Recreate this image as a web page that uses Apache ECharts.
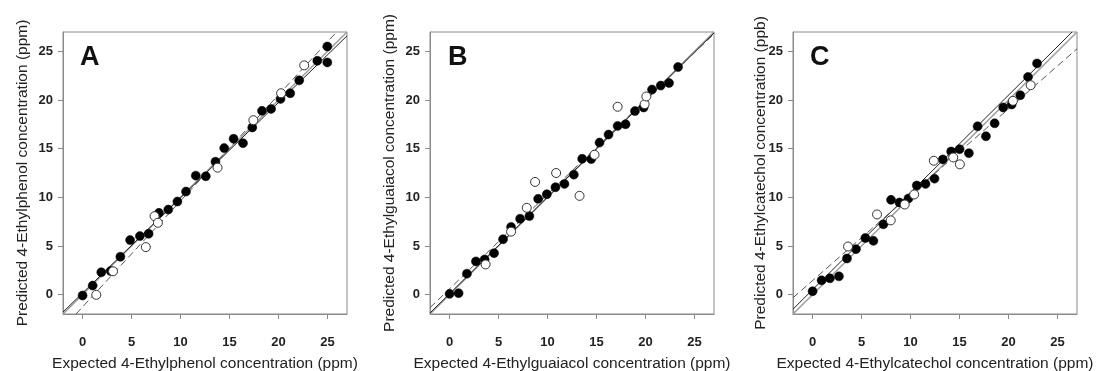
<!DOCTYPE html>
<html>
<head>
    <meta charset="utf-8">
    <title>Predicted vs expected</title>
    <script src="https://cdn.jsdelivr.net/npm/echarts@6/dist/echarts.min.js"></script>
    <style>
        html, body { margin: 0; padding: 0; background: #fff; }
        #chart { width: 1104px; height: 371px; }
    </style>
</head>
<body>
<div id="chart"></div>
<script>
    // tick labels (same on every axis)
    var tickValues = [0, 5, 10, 15, 20, 25];

    // panel A - 4-ethylphenol
    var aFilled = [[0, -0.1], [1.03, 0.92], [1.91, 2.29], [2.87, 2.42], [3.86, 3.89], [4.85, 5.6],
        [5.85, 6.01], [6.74, 6.25], [7.8, 8.4], [8.75, 8.74], [9.68, 9.56], [10.56, 10.59],
        [11.56, 12.23], [12.58, 12.16], [13.57, 13.66], [14.46, 15.06], [15.42, 16.02], [16.38, 15.57],
        [17.33, 17.18], [18.32, 18.89], [19.25, 19.09], [20.21, 20.12], [21.2, 20.7], [22.12, 22.03],
        [23.97, 24.04], [24.99, 25.51], [24.99, 23.87]];
    var aOpen = [[1.4, -0.03], [3.11, 2.39], [6.46, 4.88], [7.35, 8.06], [7.69, 7.38], [13.78, 13.05],
        [17.44, 17.93], [20.27, 20.7], [22.63, 23.57]];
    var aFit = [[-2, -1.8], [27, 26.6]];
    var aDash = [[-0.67, -2], [25.94, 27]];

    // panel B - 4-ethylguaiacol
    var bFilled = [[0, 0.07], [0.92, 0.14], [1.77, 2.15], [2.69, 3.41], [3.58, 3.61], [4.54, 4.26],
        [5.46, 5.69], [6.28, 6.95], [7.2, 7.8], [8.15, 8.07], [9.04, 9.84], [9.93, 10.32],
        [10.81, 11.04], [11.73, 11.38], [12.69, 12.33], [13.54, 13.96], [14.46, 13.93], [15.31, 15.63],
        [16.23, 16.45], [17.16, 17.34], [17.97, 17.51], [18.93, 18.87], [19.82, 19.24], [20.67, 21.08],
        [21.56, 21.49], [22.41, 21.76], [23.33, 23.4]];
    var bOpen = [[3.68, 3.1], [6.28, 6.47], [7.88, 8.92], [8.73, 11.58], [10.88, 12.5], [13.27, 10.15],
        [14.8, 14.37], [17.16, 19.31], [19.92, 19.58], [20.09, 20.37]];
    var bFit = [[-2, -1.9], [27, 26.9]];
    var bDash = [[-2, -1.35], [27, 26.8]];

    // panel C - 4-ethylcatechol
    var cFilled = [[0, 0.34], [0.92, 1.46], [1.77, 1.67], [2.69, 1.87], [3.51, 3.71], [4.43, 4.67],
        [5.39, 5.82], [6.21, 5.52], [7.23, 7.22], [8.01, 9.74], [8.87, 9.47], [9.79, 9.88],
        [10.64, 11.21], [11.53, 11.38], [12.45, 11.92], [13.3, 13.9], [14.15, 14.71], [15.01, 14.95],
        [15.96, 14.54], [16.85, 17.3], [17.7, 16.28], [18.59, 17.61], [19.47, 19.24], [20.33, 19.55],
        [21.21, 20.5], [22.0, 22.38], [22.92, 23.77]];
    var cOpen = [[3.62, 4.94], [6.58, 8.24], [7.98, 7.63], [9.41, 9.26], [10.37, 10.29], [12.38, 13.76],
        [14.36, 14.1], [15.04, 13.39], [20.46, 19.92], [22.27, 21.53]];
    var cFit = [[-2, -1.5], [26.5, 27]];
    var cDash = [[-2, -0.33], [27, 25.27]];

    var identity = [[-2, -2], [27, 27]];

    var letters = ['A', 'B', 'C'];
    var xNames = ['Expected 4-Ethylphenol concentration (ppm)',
        'Expected 4-Ethylguaiacol concentration (ppm)',
        'Expected 4-Ethylcatechol concentration (ppm)'];
    var yNames = ['Predicted 4-Ethylphenol concentration (ppm)',
        'Predicted 4-Ethylguaiacol concentration (ppm)',
        'Predicted 4-Ethylcatechol concentration (ppb)'];

    var panels = [
        {filled: aFilled, open: aOpen, fit: aFit, dash: aDash},
        {filled: bFilled, open: bOpen, fit: bFit, dash: bDash},
        {filled: cFilled, open: cOpen, fit: cFit, dash: cDash}
    ];

    var gridLeft = [63, 430, 793];
    var yNameGap = [32, 32, 24];
    var letterLeft = [75, 443, 805];

    var grids = [], xAxes = [], yAxes = [], titles = [], series = [];

    function axisBase() {
        return {
            type: 'value',
            min: -2,
            max: 27,
            splitLine: {show: false},
            axisLine: {show: true, onZero: false, lineStyle: {color: '#8a8a8a', width: 1}},
            axisTick: {show: true, inside: false, length: 5, customValues: tickValues,
                lineStyle: {color: '#8a8a8a'}},
            nameLocation: 'middle',
            nameMoveOverlap: false,
            nameTextStyle: {fontFamily: 'Liberation Sans', fontSize: 15.5, color: '#222'}
        };
    }

    for (var i = 0; i < 3; i++) {
        grids.push({left: gridLeft[i], top: 32, width: 284, height: 282, outerBoundsMode: 'none',
            containLabel: false,
            show: true, borderColor: '#8a8a8a', borderWidth: 1, backgroundColor: '#fff'});

        var xa = axisBase();
        xa.gridIndex = i;
        xa.name = xNames[i];
        xa.nameGap = 42;
        xa.axisLabel = {customValues: tickValues, margin: 22, fontFamily: 'Liberation Sans',
            fontSize: 13, fontWeight: 'bold', color: '#222'};
        xAxes.push(xa);

        var ya = axisBase();
        ya.gridIndex = i;
        ya.name = yNames[i];
        ya.nameGap = yNameGap[i];
        ya.axisLabel = {customValues: tickValues, margin: 10, fontFamily: 'Liberation Sans',
            fontSize: 13, fontWeight: 'bold', color: '#222'};
        yAxes.push(ya);

        titles.push({text: letters[i], left: letterLeft[i], top: 39,
            textStyle: {fontFamily: 'Liberation Sans', fontSize: 27, fontWeight: 'bold', color: '#111'}});

        var p = panels[i];
        series.push({type: 'line', xAxisIndex: i, yAxisIndex: i, data: identity, symbol: 'none',
            silent: true, lineStyle: {color: '#a0a0a0', width: 1.6}, z: 1});
        series.push({type: 'line', xAxisIndex: i, yAxisIndex: i, data: p.fit, symbol: 'none',
            silent: true, lineStyle: {color: '#222', width: 1}, z: 2});
        series.push({type: 'line', xAxisIndex: i, yAxisIndex: i, data: p.dash, symbol: 'none',
            silent: true, lineStyle: {color: '#555', width: 1, type: [7, 4]}, z: 2});
        series.push({type: 'scatter', xAxisIndex: i, yAxisIndex: i, data: p.filled, symbolSize: 9,
            itemStyle: {color: '#000', borderColor: '#000', borderWidth: 0.5, opacity: 1}, z: 3});
        series.push({type: 'scatter', xAxisIndex: i, yAxisIndex: i, data: p.open, symbolSize: 9,
            itemStyle: {color: '#fff', borderColor: '#333', borderWidth: 1, opacity: 1}, z: 4});
    }

    var chart = echarts.init(document.getElementById('chart'), null, {renderer: 'canvas'});
    chart.setOption({
        animation: false,
        title: titles,
        grid: grids,
        xAxis: xAxes,
        yAxis: yAxes,
        series: series
    });
</script>
</body>
</html>
